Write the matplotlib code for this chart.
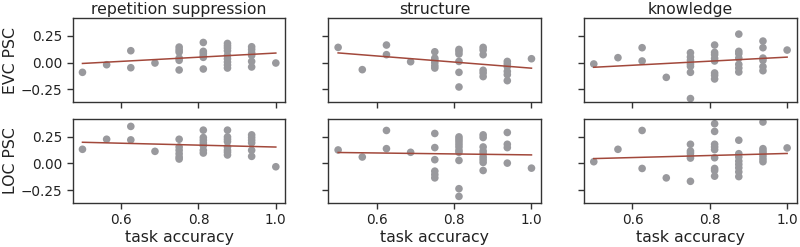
import numpy as np
import matplotlib
matplotlib.use("Agg")
import matplotlib.pyplot as plt

titles = ["repetition suppression", "structure", "knowledge"]
row_labels = ["EVC PSC", "LOC PSC"]
xlabel = "task accuracy"

# EVC row
evc_rs_x = [0.5, 0.5625, 0.625, 0.625, 0.6875] + [0.75]*6 + [0.8125]*6 + [0.875]*9 + [0.9375]*6 + [1.0]
evc_rs_y = [-0.090, -0.019, 0.112, -0.047, -0.003,
            0.146, 0.121, 0.099, 0.043, 0.022, -0.068,
            0.189, 0.106, 0.087, 0.065, 0.050, -0.059,
            0.180, 0.158, 0.137, 0.112, 0.068, 0.037, 0.006, -0.022, -0.050,
            0.149, 0.124, 0.093, 0.068, 0.012, -0.040,
            -0.003]
evc_st_x = [0.5, 0.5625, 0.625, 0.625, 0.6875] + [0.75]*6 + [0.8125]*6 + [0.875]*6 + [0.9375]*6 + [1.0]
evc_st_y = [0.143, -0.065, 0.165, 0.075, 0.009,
            0.102, 0.043, 0.025, 0.000, -0.028, -0.050,
            0.124, 0.106, 0.081, 0.012, -0.090, -0.227,
            0.143, 0.118, 0.075, -0.071, -0.096, -0.130,
            0.012, -0.012, -0.037, -0.081, -0.112, -0.168,
            0.037]
evc_kn_x = [0.5, 0.5625, 0.625, 0.625, 0.6875] + [0.75]*7 + [0.8125]*8 + [0.875]*7 + [0.9375]*6 + [1.0]
evc_kn_y = [-0.012, 0.047, 0.140, 0.016, -0.137,
            0.093, 0.053, 0.022, -0.012, -0.034, -0.090, -0.335,
            0.165, 0.096, 0.075, 0.040, 0.016, -0.096, -0.118, -0.152,
            0.267, 0.106, 0.084, 0.043, -0.016, -0.050, -0.087,
            0.202, 0.140, 0.043, 0.022, -0.037, -0.075,
            0.118]

# LOC row
loc_rs_x = [0.5, 0.5625, 0.625, 0.625, 0.6875] + [0.75]*6 + [0.8125]*7 + [0.875]*8 + [0.9375]*6 + [1.0]
loc_rs_y = [0.132, 0.226, 0.346, 0.220, 0.113,
            0.226, 0.154, 0.123, 0.091, 0.060, 0.041,
            0.311, 0.242, 0.217, 0.192, 0.167, 0.123, 0.097,
            0.311, 0.248, 0.226, 0.204, 0.154, 0.123, 0.104, 0.079,
            0.267, 0.242, 0.217, 0.192, 0.123, 0.066,
            -0.031]
loc_st_x = [0.5, 0.5625, 0.625, 0.625, 0.6875] + [0.75]*6 + [0.8125]*10 + [0.875]*9 + [0.9375]*4 + [1.0]
loc_st_y = [0.126, 0.060, 0.308, 0.138, 0.104,
            0.280, 0.148, 0.035, -0.072, -0.104, -0.135,
            0.248, 0.226, 0.204, 0.179, 0.154, 0.123, 0.104, 0.028, -0.236, -0.308,
            0.267, 0.242, 0.154, 0.116, 0.091, 0.060, 0.035, 0.009, -0.066,
            0.289, 0.179, 0.148, 0.003,
            -0.044]
loc_kn_x = [0.5, 0.5625, 0.625, 0.625, 0.6875] + [0.75]*6 + [0.8125]*9 + [0.875]*8 + [0.9375]*7 + [1.0]
loc_kn_y = [0.016, 0.132, 0.308, -0.047, -0.135,
            0.179, 0.116, 0.097, 0.072, 0.050, -0.167,
            0.371, 0.299, 0.179, 0.154, 0.129, 0.053, -0.047, -0.066, -0.119,
            0.217, 0.091, 0.060, 0.022, -0.009, -0.041, -0.079, -0.123,
            0.387, 0.138, 0.116, 0.097, 0.069, 0.041, 0.016,
            0.145]

data = [[(evc_rs_x, evc_rs_y), (evc_st_x, evc_st_y), (evc_kn_x, evc_kn_y)],
        [(loc_rs_x, loc_rs_y), (loc_st_x, loc_st_y), (loc_kn_x, loc_kn_y)]]

xticks = [0.6, 0.8, 1.0]
yticks = [-0.25, 0.0, 0.25]

fig, axes = plt.subplots(2, 3, figsize=(8, 2.47), dpi=100, sharex=True, sharey=True)
fig.subplots_adjust(left=0.091, right=0.996, top=0.926, bottom=0.178, wspace=0.202, hspace=0.199)

edge = "#333333"
for r in range(2):
    for c in range(3):
        ax = axes[r, c]
        x, y = np.array(data[r][c][0]), np.array(data[r][c][1])
        ax.scatter(x, y, s=30, color="#99999d", edgecolors="none", zorder=2)
        k, b = np.polyfit(x, y, 1)
        xs = np.array([x.min(), x.max()])
        ax.plot(xs, k * xs + b, color="#a2483b", lw=1.1, zorder=3)
        ax.set_xlim(0.475, 1.025)
        ax.set_ylim(-0.37, 0.415)
        ax.set_xticks(xticks)
        ax.set_yticks(yticks)
        for s in ax.spines.values():
            s.set_color(edge)
            s.set_linewidth(1.0)
        ax.tick_params(colors=edge, labelcolor="#222222", labelsize=9.8, length=4, width=1)
        if r == 0:
            ax.set_title(titles[c], fontsize=11.3, color="#222222", pad=3)
        if r == 1:
            ax.set_xlabel(xlabel, fontsize=11.3, color="#222222", labelpad=2)
            ax.set_xticklabels(["0.6", "0.8", "1.0"])
        if c == 0:
            ax.set_ylabel(row_labels[r], fontsize=11.3, color="#222222", labelpad=2)
            ax.set_yticklabels(["\u22120.25", "0.00", "0.25"])

fig.savefig("out.png", dpi=100)
